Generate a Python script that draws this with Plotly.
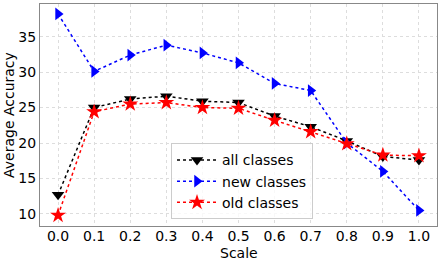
import plotly.graph_objects as go

scale = [0.0, 0.1, 0.2, 0.3, 0.4, 0.5, 0.6, 0.7, 0.8, 0.9, 1.0]
all_classes = [12.7, 25.0, 26.2, 26.6, 25.9, 25.7, 23.8, 22.3, 20.3, 18.1, 17.6]
new_classes = [38.2, 30.1, 32.4, 33.8, 32.7, 31.3, 28.4, 27.4, 20.0, 16.0, 10.5]
old_classes = [9.8, 24.4, 25.5, 25.7, 25.0, 24.9, 23.2, 21.6, 19.9, 18.3, 18.2]
xticks = ["0.0", "0.1", "0.2", "0.3", "0.4", "0.5", "0.6", "0.7", "0.8", "0.9", "1.0"]

fig = go.Figure()
series = [
    ("all classes", all_classes, "black", "triangle-down", 11),
    ("new classes", new_classes, "blue", "triangle-right", 11),
    ("old classes", old_classes, "red", "star", 12),
]
for name, vals, col, sym, sz in series:
    fig.add_trace(go.Scatter(
        x=scale, y=vals, name=name, mode="lines+markers",
        line=dict(color=col, width=1.5, dash="dot"),
        marker=dict(symbol=sym, size=sz, color=col, line=dict(width=0)),
    ))

axis_common = dict(
    showline=True, linecolor="#888888", linewidth=1, mirror=True,
    showgrid=True, gridcolor="#dddddd", gridwidth=1, griddash="dot",
    zeroline=False, ticks="",
    tickfont=dict(size=14, color="black"), automargin=False,
)
fig.update_layout(
    width=442, height=262,
    margin=dict(l=40, r=5, t=4, b=36),
    paper_bgcolor="white", plot_bgcolor="white",
    font=dict(family="DejaVu Sans", size=14, color="black"),
    xaxis=dict(range=[-0.05, 1.05], tickvals=scale, ticktext=xticks,
               ticklabelstandoff=-3, **axis_common),
    yaxis=dict(range=[8.3, 39.6], tickvals=[10, 15, 20, 25, 30, 35], **axis_common),
    legend=dict(x=0.33, y=0.03, xanchor="left", yanchor="bottom",
                bgcolor="rgba(255,255,255,0.8)", bordercolor="#cccccc", borderwidth=1,
                font=dict(size=14), tracegroupgap=0, itemwidth=40),
    annotations=[
        dict(text="Scale", xref="paper", yref="paper", x=0.5, y=0, yshift=-27,
             xanchor="center", yanchor="middle", showarrow=False, font=dict(size=14)),
        dict(text="Average Accuracy", xref="paper", yref="paper", x=0, y=0.5, xshift=-31,
             xanchor="center", yanchor="middle", textangle=-90, showarrow=False,
             font=dict(size=14)),
    ],
)
fig.write_html("out.html", config={"displayModeBar": False},
               post_script="document.body.style.margin='0';document.body.style.padding='0';")
